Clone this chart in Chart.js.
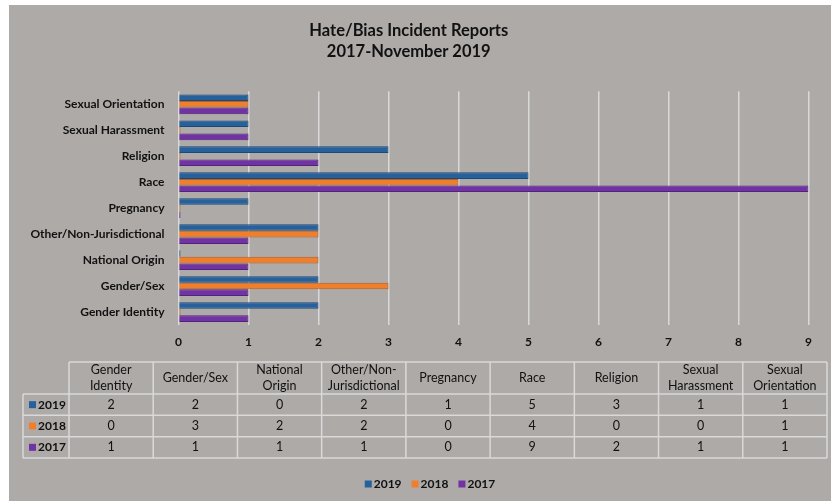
<!DOCTYPE html>
<html><head><meta charset="utf-8">
<script src="https://cdn.jsdelivr.net/npm/chart.js@4/dist/chart.umd.min.js"></script>
<style>html,body{margin:0;padding:0;background:#fff;overflow:hidden}#wrap{width:831px;height:501px;position:relative}</style>
</head><body><div id="wrap"><canvas id="c" width="831" height="501"></canvas></div>
<script>
const categories = ['Gender Identity','Gender/Sex','National Origin','Other/Non-Jurisdictional','Pregnancy','Race','Religion','Sexual Harassment','Sexual Orientation'];
const seriesNames = ['2019','2018','2017'];
const values2019 = [2,2,0,2,1,5,3,1,1];
const values2018 = [0,3,2,2,0,4,0,0,1];
const values2017 = [1,1,1,1,0,9,2,1,1];
const xTickValues = [0,1,2,3,4,5,6,7,8,9];
const titleLines = ['Hate/Bias Incident Reports','2017-November 2019'];

const FONT = 'Lato, "Liberation Sans", sans-serif';
const colors = ['#26619c','#ef7f2c','#7132a4'];
const borders = ['#1c4a78','#b95f1e','#52237a'];
const seriesValues = [values2019, values2018, values2017];
const BG = '#aeaaa8', LINE = '#d9d9d9', TXT = '#111111';

function wrapLabel(s){
  if (s.indexOf(' ') >= 0) return s.split(' ');
  const i = s.indexOf('-');
  if (i >= 0 && i < s.length-1) return [s.slice(0,i+1), s.slice(i+1)];
  return [s];
}

const decor = {
  id:'decor',
  beforeDraw(chart){
    const ctx = chart.ctx;
    ctx.save();
    ctx.fillStyle = '#ffffff'; ctx.fillRect(0,0,chart.width,chart.height);
    ctx.fillStyle = BG; ctx.fillRect(9,5,chart.width-9,chart.height-5);
    ctx.restore();
  },
  afterDraw(chart){
    const ctx = chart.ctx;
    ctx.save();
    // data table
    const x0 = 23, x1 = 69, x2 = 827;
    const colW = (x2-x1)/categories.length;
    const hTop = 362, hBot = 394, rowH = (458-394)/seriesNames.length;
    ctx.strokeStyle = LINE; ctx.lineWidth = 1.5;
    ctx.beginPath();
    ctx.moveTo(x1,hTop); ctx.lineTo(x2,hTop);
    for (let r=0;r<=seriesNames.length;r++){ const y=hBot+r*rowH; ctx.moveTo(x0,y); ctx.lineTo(x2,y); }
    ctx.moveTo(x0,hBot); ctx.lineTo(x0,hBot+seriesNames.length*rowH);
    for (let c=0;c<=categories.length;c++){ const x=x1+c*colW; ctx.moveTo(x,hTop); ctx.lineTo(x,hBot+seriesNames.length*rowH); }
    ctx.stroke();
    ctx.fillStyle = TXT; ctx.textAlign='center'; ctx.textBaseline='middle';
    ctx.font = '12.5px '+FONT;
    categories.forEach((cat,c)=>{
      const lines = wrapLabel(cat); const cx = x1+(c+0.5)*colW;
      const lh = 15.5; const cy = (hTop+hBot)/2;
      lines.forEach((ln,i)=>ctx.fillText(ln, cx, cy + (i-(lines.length-1)/2)*lh));
    });
    seriesNames.forEach((nm,r)=>{
      const cy = hBot+(r+0.5)*rowH;
      ctx.fillStyle = colors[r]; ctx.fillRect(29,cy-3.5,7,7);
      ctx.fillStyle = TXT; ctx.textAlign='left'; ctx.font='bold 12px '+FONT;
      ctx.fillText(nm, 38, cy);
      ctx.textAlign='center'; ctx.font='12.5px '+FONT;
      seriesValues[r].forEach((v,c)=>ctx.fillText(String(v), x1+(c+0.5)*colW, cy));
    });
    // legend
    ctx.font = 'bold 12px '+FONT; ctx.textAlign='left';
    const ly = 484;
    const widths = seriesNames.map(n=>9+ctx.measureText(n).width);
    const gap = 10;
    let total = widths.reduce((a,b)=>a+b,0)+gap*(widths.length-1);
    let lx = 430 - total/2;
    seriesNames.forEach((nm,i)=>{
      ctx.fillStyle = colors[i]; ctx.fillRect(lx, ly-3.5, 7, 7);
      ctx.fillStyle = TXT; ctx.fillText(nm, lx+9, ly);
      lx += widths[i]+gap;
    });
    ctx.restore();
  }
};

new Chart(document.getElementById('c'), {
  type:'bar',
  data:{
    labels: categories,
    datasets: seriesNames.map((n,i)=>({
      label:n, data: seriesValues[i], backgroundColor: colors[i], borderColor: borders[i],
      borderWidth: 1, categoryPercentage: 0.76, barPercentage: 1.0, minBarLength: 2
    }))
  },
  options:{
    indexAxis:'y', responsive:false, animation:false, devicePixelRatio:1,
    layout:{padding:{left:9, right:22.5, top:5, bottom:146}},
    plugins:{
      legend:{display:false}, tooltip:{enabled:false},
      title:{display:true, text:titleLines, color:TXT,
        font:{family:FONT, size:16.5, weight:'bold', lineHeight:1.27},
        padding:{top:15.6, bottom:28.8}}
    },
    scales:{
      x:{type:'linear', min:0, max:9, afterBuildTicks(s){ s.ticks = xTickValues.map(v=>({value:v})); },
        grid:{color:LINE, lineWidth:1.5, drawTicks:false}, border:{display:false},
        ticks:{color:TXT, font:{family:FONT, size:12, weight:'bold'}, padding:10},
        afterFit(s){ s.height = 30; }},
      y:{type:'category', reverse:true, grid:{display:false}, border:{display:false},
        ticks:{color:TXT, autoSkip:false, padding:6, font:{family:FONT, size:12, weight:'bold'}},
        afterFit(s){ s.width = 169.5; }}
    }
  },
  plugins:[decor]
});
</script></body></html>
